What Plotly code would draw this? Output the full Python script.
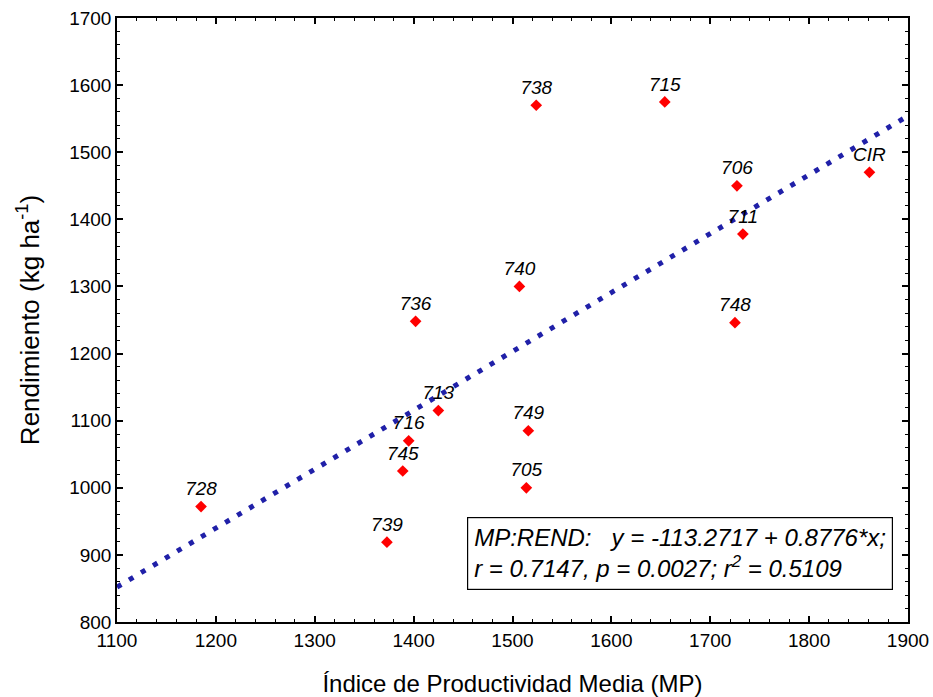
import plotly.graph_objects as go

# Data
labels = ["728", "739", "745", "716", "713", "736", "740", "738", "749", "705",
          "715", "706", "711", "748", "CIR"]
mp = [1185, 1373, 1389, 1395, 1425, 1402, 1507, 1524, 1516, 1514,
      1654, 1727, 1733, 1725, 1861]
rend = [972, 919, 1025, 1070, 1115, 1248, 1300, 1570, 1085, 1000,
        1575, 1450, 1378, 1246, 1470]

# Regression line endpoints (y = -113.2717 + 0.8776*x), read at the axis limits
fit_x = [1100, 1900]
fit_y = [852.1, 1554.2]

eq_line1 = "MP:REND:   y = -113.2717 + 0.8776*x;"
eq_line2 = "r = 0.7147, p = 0.0027; r<sup>2</sup> = 0.5109"

x_ticks = [1100, 1200, 1300, 1400, 1500, 1600, 1700, 1800, 1900]
y_ticks = [800, 900, 1000, 1100, 1200, 1300, 1400, 1500, 1600, 1700]

FONT = "Liberation Sans, Arial, sans-serif"

fig = go.Figure()

fig.add_trace(go.Scatter(
    x=fit_x, y=fit_y, mode="lines",
    line=dict(color="#2020a8", width=5, dash="5px,9px"),
    hoverinfo="skip", showlegend=False,
))

fig.add_trace(go.Scatter(
    x=mp, y=rend, mode="markers+text",
    text=labels, textposition="top center",
    textfont=dict(family=FONT, size=19, color="black", style="italic"),
    marker=dict(symbol="diamond", size=9, color="#ff0000"),
    showlegend=False,
))

axis_common = dict(
    showgrid=False, zeroline=False, automargin=False,
    showline=True, linecolor="black", linewidth=1.5, mirror="ticks",
    ticks="inside", ticklen=6, tickwidth=1.5, tickcolor="black",
    tickfont=dict(family=FONT, size=19, color="black"),
)

fig.update_xaxes(
    range=[1100, 1900], tickvals=x_ticks,
    title=dict(text="Índice de Productividad Media (MP)",
               font=dict(family=FONT, size=24, color="black"), standoff=26),
    minor=dict(dtick=20, ticks="inside", ticklen=3, tickwidth=1.2, tickcolor="black"),
    **axis_common,
)
fig.update_yaxes(
    range=[800, 1700], tickvals=y_ticks,
    title=dict(text="Rendimiento (kg ha<sup>-1</sup>)",
               font=dict(family=FONT, size=26, color="black"), standoff=22),
    minor=dict(dtick=20, ticks="inside", ticklen=3, tickwidth=1.2, tickcolor="black"),
    **axis_common,
)

fig.add_annotation(
    xref="x", yref="y", x=1885, y=847, xanchor="right", yanchor="bottom",
    text=eq_line1 + "<br>" + eq_line2, showarrow=False, align="left",
    font=dict(family=FONT, size=24, color="black", style="italic"),
    bordercolor="black", borderwidth=1.2, borderpad=6, bgcolor="white",
)

fig.update_layout(
    width=933, height=697,
    margin=dict(l=117, r=25, t=18, b=75),
    plot_bgcolor="white", paper_bgcolor="white",
)

fig.write_html(
    "out.html",
    config={"displayModeBar": False},
    post_script="document.body.style.margin='0';document.body.style.overflow='hidden';",
)
